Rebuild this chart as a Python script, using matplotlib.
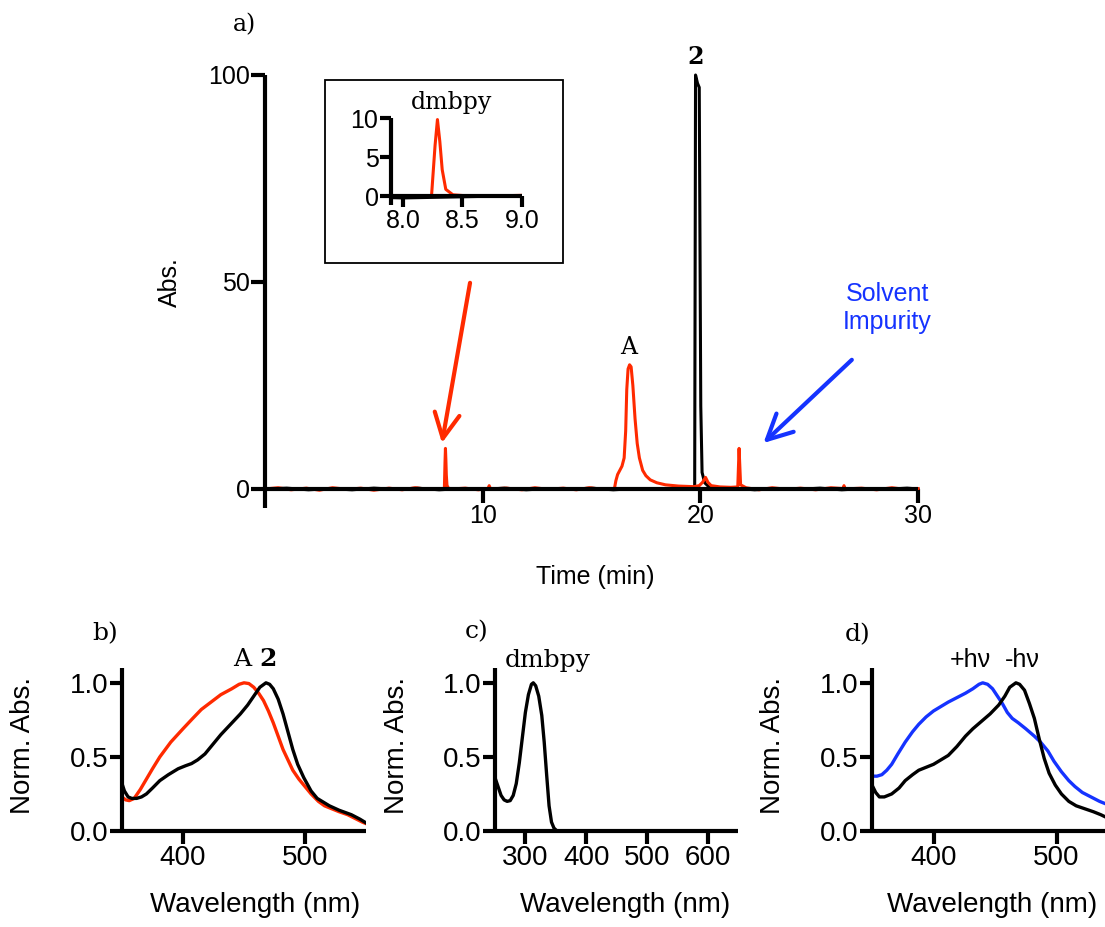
import matplotlib.pyplot as plt
from matplotlib.patches import Rectangle

plt.rcParams['font.family'] = ['Liberation Sans', 'DejaVu Sans']
SERIF = ['DejaVu Serif']

W, H = 1105, 927
RED = '#ff2a00'
BLUE = '#1533ff'

# --- HPLC trace (time in min, absorbance) ---
red_time = [0.0, 0.6, 1.2, 1.9, 2.5, 3.1, 3.8, 4.4, 5.0, 5.7, 6.3, 6.9, 7.5, 8.0,
            8.24, 8.27, 8.29, 8.31, 8.33, 8.36, 8.42, 8.6, 9.2, 9.8, 10.25, 10.3,
            10.36, 11.1, 11.8, 12.4, 13.0, 13.7, 14.3, 14.9, 15.5, 16.05, 16.12,
            16.2, 16.3, 16.4, 16.5, 16.57, 16.62, 16.68, 16.75, 16.82, 16.9, 17.0,
            17.1, 17.2, 17.35, 17.5, 17.7, 18.0, 18.4, 19.0, 19.7, 19.95, 20.1,
            20.24, 20.35, 20.5, 20.9, 21.4, 21.72, 21.78, 21.85, 22.1, 22.7, 23.3,
            24.0, 24.6, 25.3, 26.0, 26.55, 26.6, 26.65, 27.4, 28.1, 28.8, 29.4, 30.0]
red_abs = [0.0, 0.3, -0.2, 0.2, -0.3, 0.3, -0.1, 0.2, -0.3, 0.2, -0.2, 0.3, -0.1, 0.1,
           0.0, 6.5, 9.8, 7.0, 3.4, 0.9, 0.2, 0.0, 0.2, -0.2, 0.1, 0.8,
           0.0, 0.2, -0.2, 0.3, -0.1, 0.2, -0.2, 0.3, -0.1, 0.0, 2.0,
           3.5, 4.5, 5.5, 7.5, 14.0, 24.0, 29.0, 30.0, 29.5, 25.0, 17.0,
           11.0, 7.5, 4.5, 3.2, 2.2, 1.5, 1.0, 0.7, 0.56, 0.8, 1.6,
           2.8, 1.6, 0.8, 0.5, 0.4, 0.5, 9.8, 1.0, 0.3, -0.2, 0.3,
           -0.1, 0.2, -0.2, 0.3, 0.1, 0.8, 0.0, 0.2, -0.2, 0.3, -0.1, 0.1]

black_time = [0.0, 1.0, 2.0, 3.0, 4.0, 5.0, 6.0, 7.0, 8.0, 9.0, 10.0, 11.0, 12.0,
              13.0, 14.0, 15.0, 16.0, 17.0, 18.0, 19.0, 19.74, 19.78, 19.87,
              19.95, 20.02, 20.08, 20.2, 20.4, 20.7, 21.5, 22.5, 23.5, 24.5,
              25.5, 26.5, 27.5, 28.5, 29.5, 30.0]
black_abs = [0.0, 0.2, -0.2, 0.1, -0.2, 0.2, -0.1, 0.2, -0.2, 0.1, -0.1, 0.2, -0.2,
             0.1, -0.1, 0.2, -0.2, 0.1, -0.1, 0.1, 0.0, 100.0, 98.0,
             97.0, 20.0, 4.0, 1.5, 0.5, 0.0, 0.2, -0.2, 0.1, -0.1,
             0.2, -0.2, 0.1, -0.1, 0.2, 0.0]

# --- UV-vis spectra (nm, normalised absorbance) ---
b_wl_A = [350, 353, 356, 360, 365, 370, 375, 381, 390, 400, 408, 415, 423, 431,
          440, 446, 450, 454, 458, 462, 466, 470, 474, 478, 482, 486, 490, 495,
          500, 505, 511, 516, 522, 528, 535, 541, 547, 550]
b_abs_A = [0.23, 0.21, 0.205, 0.22, 0.28, 0.35, 0.42, 0.50, 0.60, 0.69, 0.76, 0.82,
           0.87, 0.92, 0.96, 0.99, 1.00, 0.995, 0.97, 0.93, 0.88, 0.81, 0.73, 0.64,
           0.55, 0.48, 0.41, 0.35, 0.30, 0.25, 0.20, 0.17, 0.15, 0.13, 0.11, 0.085,
           0.06, 0.05]
b_wl_2 = [350, 352, 355, 358, 362, 366, 370, 375, 381, 388, 396, 402, 407, 412,
          418, 424, 431, 439, 447, 453, 458, 463, 468, 471, 474, 478, 482, 486,
          490, 494, 499, 505, 510, 514, 520, 528, 538, 545, 550]
b_abs_2 = [0.32, 0.27, 0.23, 0.22, 0.22, 0.23, 0.25, 0.29, 0.34, 0.38, 0.42, 0.44,
           0.455, 0.48, 0.52, 0.58, 0.65, 0.72, 0.79, 0.85, 0.91, 0.97, 1.00, 0.99,
           0.96, 0.89, 0.79, 0.67, 0.55, 0.45, 0.36, 0.27, 0.22, 0.20, 0.17, 0.14,
           0.11, 0.08, 0.055]

c_wl = [250, 255, 260, 265, 270, 275, 280, 285, 290, 295, 300, 305, 310, 313,
        317, 322, 327, 331, 335, 339, 343, 347, 352, 400, 500, 600, 650]
c_abs = [0.36, 0.30, 0.24, 0.21, 0.20, 0.205, 0.24, 0.32, 0.46, 0.63, 0.80, 0.92,
         0.99, 1.00, 0.98, 0.91, 0.78, 0.60, 0.38, 0.17, 0.06, 0.02, 0.0, 0.0,
         0.0, 0.0, 0.0]

d_wl_on = [350, 354, 358, 362, 366, 371, 377, 383, 388, 394, 400, 406, 412, 419,
           426, 432, 437, 440, 444, 448, 452, 456, 460, 464, 469, 475, 482, 487,
           493, 498, 504, 510, 515, 521, 528, 535, 541, 550]
d_abs_on = [0.37, 0.37, 0.38, 0.41, 0.45, 0.52, 0.60, 0.67, 0.72, 0.77, 0.81, 0.84,
            0.87, 0.90, 0.93, 0.96, 0.99, 1.00, 0.99, 0.96, 0.91, 0.86, 0.80, 0.76,
            0.73, 0.69, 0.64, 0.60, 0.54, 0.47, 0.40, 0.34, 0.30, 0.26, 0.23, 0.20,
            0.18, 0.16]
d_wl_off = [350, 353, 356, 360, 366, 372, 377, 383, 388, 394, 400, 406, 412, 419,
            426, 432, 439, 446, 453, 458, 462, 467, 470, 474, 478, 482, 486, 490,
            494, 499, 504, 510, 516, 523, 530, 536, 541, 550]
d_abs_off = [0.31, 0.26, 0.23, 0.23, 0.25, 0.29, 0.34, 0.38, 0.41, 0.43, 0.45, 0.48,
             0.51, 0.57, 0.64, 0.69, 0.74, 0.79, 0.85, 0.91, 0.97, 1.00, 0.99, 0.95,
             0.86, 0.76, 0.62, 0.49, 0.39, 0.31, 0.25, 0.20, 0.17, 0.15, 0.13, 0.11,
             0.09, 0.07]


def box(x0, y0, x1, y1):
    # pixel box (top-left origin) -> figure fraction rect
    return [x0 / W, 1 - y1 / H, (x1 - x0) / W, (y1 - y0) / H]


def px(x, y):
    return x / W, 1 - y / H


def prism_style(ax, size, length=9):
    for s in ['top', 'right']:
        ax.spines[s].set_visible(False)
    for s in ['left', 'bottom']:
        ax.spines[s].set_linewidth(3)
        ax.spines[s].set_capstyle('butt')
    ax.tick_params(width=3, length=length, labelsize=size, pad=1)


fig = plt.figure(figsize=(W / 100, H / 100), dpi=100)

# ---------------- a) chromatogram ----------------
ax = fig.add_axes(box(265, 75, 918, 507.6))
ax.plot(black_time, black_abs, color='black', lw=2.2, clip_on=False)
ax.plot(red_time, red_abs, color=RED, lw=2.2, clip_on=False)
ax.set_xlim(0, 30)
ax.set_ylim(-4.5, 100)
ax.spines['bottom'].set_position(('data', 0))
ax.set_xticks([10, 20, 30])
ax.set_yticks([0, 50, 100])
prism_style(ax, 18, length=10)

ax.text(16.7, 31.5, 'A', family=SERIF, fontsize=17, ha='center', va='bottom')
ax.text(19.8, 101.5, '2', family=SERIF, fontsize=17, fontweight='bold',
        ha='center', va='bottom')
ax.annotate('', xy=(8.13, 11.1), xytext=(9.42, 49.8),
            arrowprops=dict(arrowstyle='->,head_length=0.9,head_width=0.45',
                            color=RED, lw=3, shrinkA=0, shrinkB=0,
                            mutation_scale=20))
ax.annotate('', xy=(22.9, 11.1), xytext=(26.96, 31.2),
            arrowprops=dict(arrowstyle='->,head_length=0.9,head_width=0.45',
                            color=BLUE, lw=3, shrinkA=0, shrinkB=0,
                            mutation_scale=20))
ax.text(28.6, 43.7, 'Solvent\nImpurity', color=BLUE, fontsize=18,
        ha='center', va='center', linespacing=1.25)

fig.text(*px(170, 282), 'Abs.', fontsize=18, rotation=90, ha='center', va='center')
fig.text(*px(595, 577), 'Time (min)', fontsize=18, ha='center', va='center')
fig.text(*px(244, 25), 'a)', family=SERIF, fontsize=17, ha='center', va='center')

# inset frame and zoom on the dmbpy peak
fig.patches.append(Rectangle((325 / W, 1 - 263 / H), 238 / W, 183 / H,
                             transform=fig.transFigure, fill=False,
                             edgecolor='black', lw=1.3))
axi = fig.add_axes(box(391, 118, 522, 205))
axi.plot(black_time, black_abs, color='black', lw=2.2)
axi.plot(red_time, red_abs, color=RED, lw=2.2)
axi.set_xlim(7.9, 9.0)
axi.set_ylim(-1.1, 10)
axi.spines['bottom'].set_position(('data', 0))
axi.set_xticks([8.0, 8.5, 9.0])
axi.set_xticklabels(['8.0', '8.5', '9.0'])
axi.set_yticks([0, 5, 10])
prism_style(axi, 18, length=8)
fig.text(*px(452, 103), 'dmbpy', family=SERIF, fontsize=17, ha='center', va='center')

# ---------------- b), c), d) spectra ----------------
ylab_ticks = [0.0, 0.5, 1.0]


def spectrum_axes(rect, xlim, xticks):
    a = fig.add_axes(rect)
    a.set_xlim(*xlim)
    a.set_ylim(0, 1.1)
    a.set_xticks(xticks)
    a.set_yticks(ylab_ticks)
    a.set_yticklabels(['0.0', '0.5', '1.0'])
    prism_style(a, 20)
    return a


axb = spectrum_axes(box(122, 668, 366, 831), (350, 550), [400, 500])
axb.plot(b_wl_A, b_abs_A, color=RED, lw=2.4)
axb.plot(b_wl_2, b_abs_2, color='black', lw=2.4)

axc = spectrum_axes(box(495, 668, 738, 831), (250, 650), [300, 400, 500, 600])
axc.plot(c_wl, c_abs, color='black', lw=2.4)

axd = spectrum_axes(box(872, 668, 1118, 831), (350, 550), [400, 500])
axd.plot(d_wl_on, d_abs_on, color=BLUE, lw=2.4)
axd.plot(d_wl_off, d_abs_off, color='black', lw=2.4)

for xc, yl in [(255, 23), (625, 397), (992, 773)]:
    fig.text(*px(yl, 745), 'Norm. Abs.', fontsize=20, rotation=90,
             ha='center', va='center')
    fig.text(*px(xc, 905), 'Wavelength (nm)', fontsize=20, ha='center', va='center')

fig.text(*px(105, 634), 'b)', family=SERIF, fontsize=18, ha='center', va='center')
fig.text(*px(477, 632), 'c)', family=SERIF, fontsize=18, ha='center', va='center')
fig.text(*px(858, 635), 'd)', family=SERIF, fontsize=18, ha='center', va='center')

fig.text(*px(242, 659), 'A', family=SERIF, fontsize=18, ha='center', va='center')
fig.text(*px(268, 659), '2', family=SERIF, fontsize=18, fontweight='bold',
         ha='center', va='center')
fig.text(*px(548, 660), 'dmbpy', family=SERIF, fontsize=18, ha='center', va='center')
fig.text(*px(970, 660), '+hν', fontsize=18, ha='center', va='center')
fig.text(*px(1022, 660), '-hν', fontsize=18, ha='center', va='center')

fig.savefig('out.png', dpi=100)
